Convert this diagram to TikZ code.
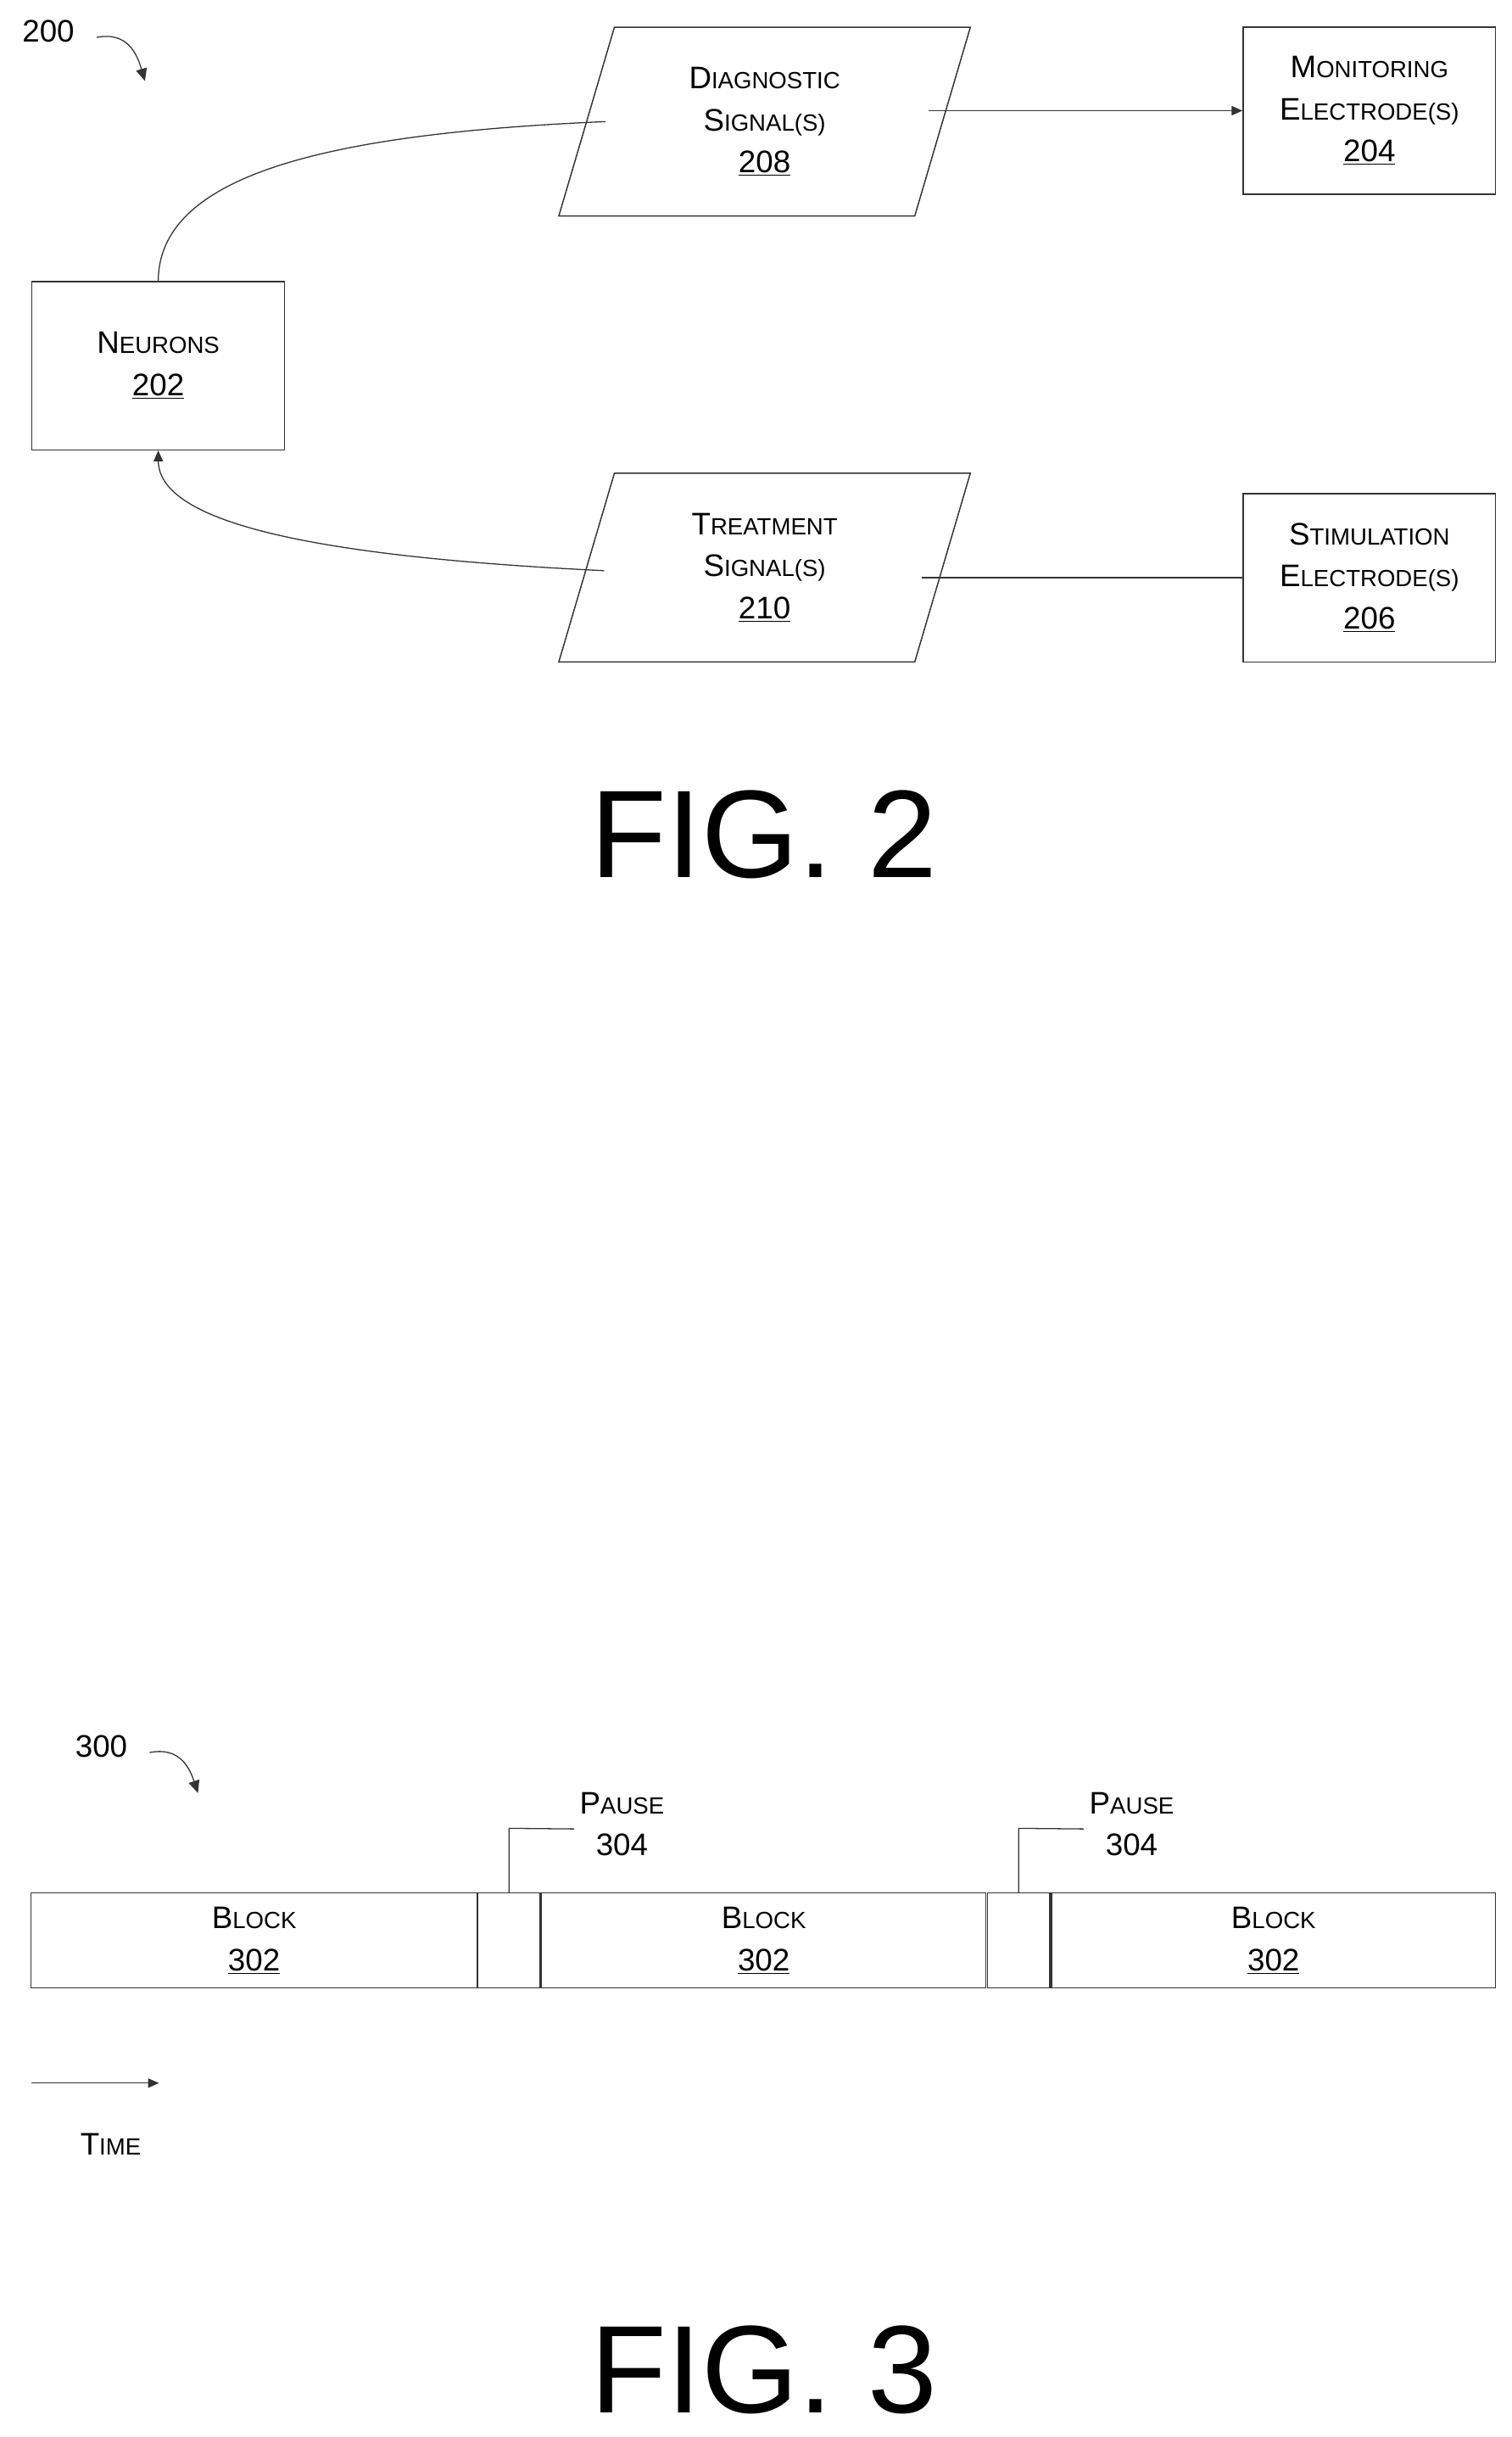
\documentclass[tikz,border=0pt]{standalone}
\usepackage{fontspec}
\setmainfont{Liberation Sans}
\usetikzlibrary{arrows.meta,shapes.geometric,positioning}
\newcommand{\smc}[2]{#1{\fontsize{15}{18}\selectfont\MakeUppercase{#2}}}
\begin{document}
\begin{tikzpicture}[x=1pt,y=-1pt,
		every node/.style={font=\fontsize{20}{27}\selectfont, align=center},
		box/.style={draw=black!80, line width=0.8pt, inner sep=0pt},
		sig/.style={box, trapezium, trapezium left angle=63, trapezium right angle=117,
			trapezium stretches body, minimum width=264, minimum height=121},
		line/.style={draw=black!80, line width=0.7pt},
		fig/.style={font=\fontsize{80}{80}\selectfont},
	]
		\useasboundingbox (0,0) rectangle (970,1563);

		% fig 2
		\node[box, minimum width=162, minimum height=108] (neu) at (101.5,234.5) {\smc{N}{eurons}\\\underline{202}};
		\node[sig] (diag) at (490.5,78) {\smc{D}{iagnostic}\\\smc{S}{ignal(s)}\\\underline{208}};
		\node[sig] (treat) at (490.5,364) {\smc{T}{reatment}\\\smc{S}{ignal(s)}\\\underline{210}};
		\node[box, minimum width=162, minimum height=107] (mon) at (878.5,71) {\smc{M}{onitoring}\\\smc{E}{lectrode(s)}\\\underline{204}};
		\node[box, minimum width=162, minimum height=108] (stim) at (878.5,370.5) {\smc{S}{timulation}\\\smc{E}{lectrode(s)}\\\underline{206}};

		\coordinate (dl) at ([xshift=-102]diag.center);
		\coordinate (dr) at ([xshift=105,yshift=7]diag.center);
		\coordinate (tl) at ([xshift=-103,yshift=-2]treat.center);
		\coordinate (tr) at ([xshift=101,yshift=-6.5]treat.center);
		\draw[line] (neu.north) .. controls (102,115) and (200,86) .. (dl);
		\draw[line, -{Triangle[length=7pt,width=6pt]}] (dr) -- (mon.west);
		\draw[line, -{Triangle[length=7pt,width=6pt]}] (tl) .. controls (200,357) and (102,335) .. (neu.south);
		\draw[line] (tr) -- (stim.west);

		\node (n200) at (31,20) {200};
		\draw[line, -{Triangle[length=8pt,width=7pt]}] (62,24) .. controls (82,20) and (88,35) .. (93,52);
		\node[fig] (fig2) at (490,535) {FIG. 2};

		% fig 3
		\node (n300) at (65,1120) {300};
		\draw[line, -{Triangle[length=8pt,width=7pt]}] (96,1124) .. controls (116,1120) and (122,1135) .. (127,1150);

		\node[box, minimum width=286, minimum height=61] (b1) at (163,1244.5) {\smc{B}{lock}\\\underline{302}};
		\node[box, minimum width=40, minimum height=61] (p1) at (326.5,1244.5) {};
		\node[box, minimum width=285, minimum height=61] (b2) at (490,1244.5) {\smc{B}{lock}\\\underline{302}};
		\node[box, minimum width=40, minimum height=61] (p2) at (653.5,1244.5) {};
		\node[box, minimum width=285, minimum height=61] (b3) at (817,1244.5) {\smc{B}{lock}\\\underline{302}};

		\node (l1) at (399,1170) {\smc{P}{ause}\\304};
		\node (l2) at (726,1170) {\smc{P}{ause}\\304};
		\draw[line] (p1.north) -- ++(0,-41) -- (l1.west|-0,1173);
		\draw[line] (p2.north) -- ++(0,-41) -- (l2.west|-0,1173);

		\coordinate (t0) at (20,1336);
		\coordinate (t1) at (102,1336);
		\draw[line, -{Triangle[length=7pt,width=6pt]}] (t0) -- (t1);
		\node (time) at (71,1375) {\smc{T}{ime}};
		\node[fig] (fig3) at (490,1520) {FIG. 3};
	\end{tikzpicture}
\end{document}
